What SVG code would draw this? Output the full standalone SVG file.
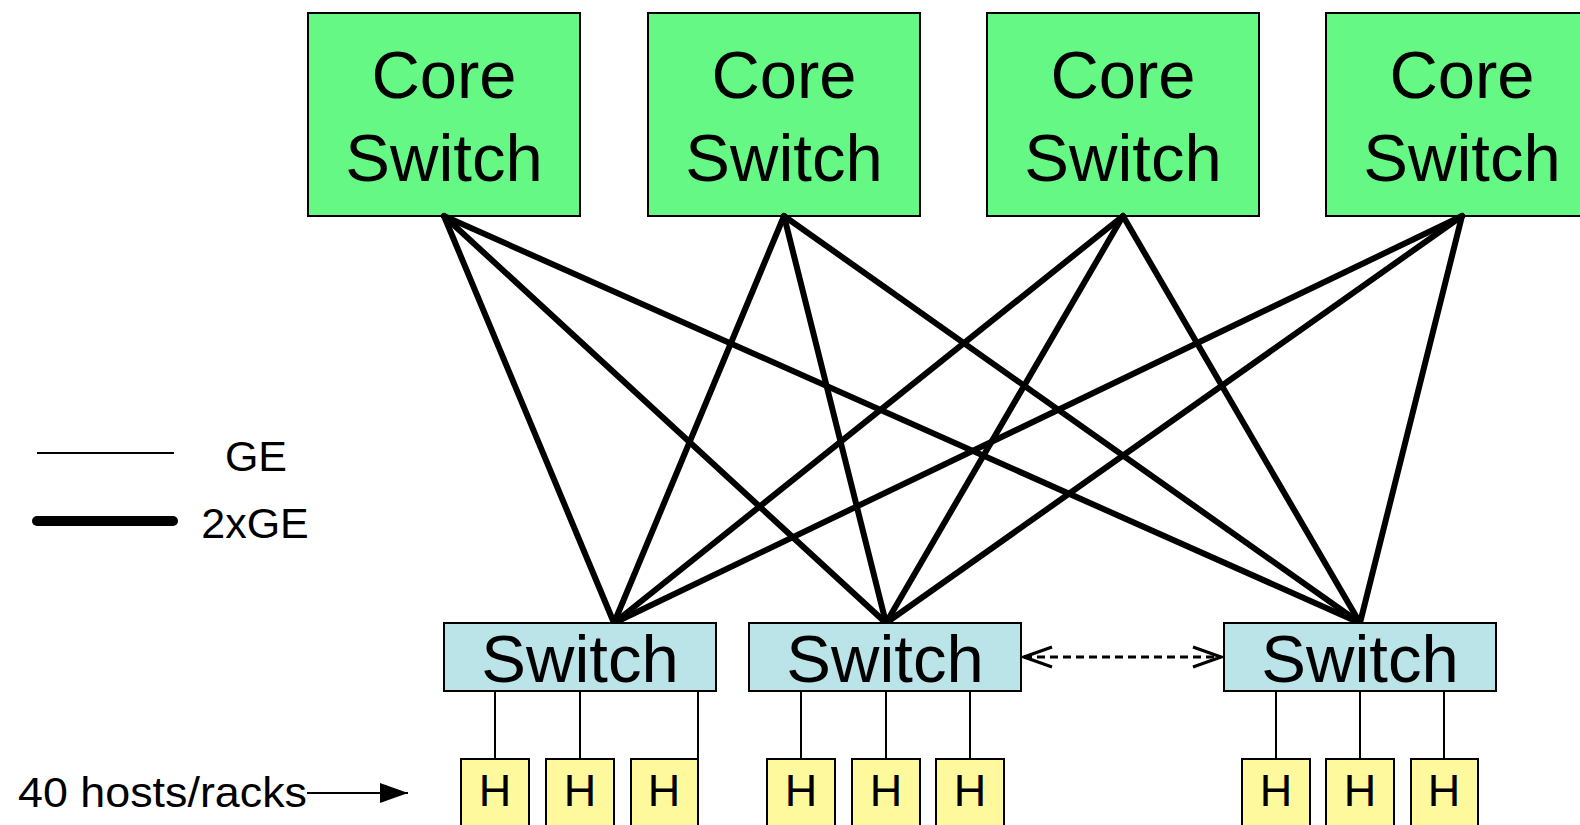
<svg xmlns="http://www.w3.org/2000/svg" width="1580" height="825" viewBox="0 0 1580 825">
  <style>
    text { font-family: "Liberation Sans", Arial, sans-serif; fill: #000; text-anchor: middle; }
    .core rect { fill: #66F884; stroke: #000; stroke-width: 2; }
    .edge rect { fill: #BAE4E8; stroke: #000; stroke-width: 2; }
    .host rect { fill: #FEF99C; stroke: #000; stroke-width: 2; }
    .big { font-size: 67px; }
    .hl { font-size: 45px; }
    .lg { font-size: 43px; }
    .uplink { stroke: #000; stroke-width: 6; stroke-linecap: round; fill: none; }
    .downlink { stroke: #000; stroke-width: 2; fill: none; }
  </style>
  <defs>
    <marker id="open" viewBox="0 0 32 24" refX="30" refY="12" markerWidth="32" markerHeight="24" markerUnits="userSpaceOnUse" orient="auto-start-reverse">
      <path d="M2,2 L30,12 L2,22" fill="none" stroke="#000" stroke-width="3"/>
    </marker>
    <marker id="solid" viewBox="0 0 28 20" refX="28" refY="10" markerWidth="28" markerHeight="20" markerUnits="userSpaceOnUse" orient="auto">
      <path d="M0,0 L28,10 L0,20 Z" fill="#000"/>
    </marker>
  </defs>

  <!-- core layer -->
  <g id="core1" class="core"><rect x="308" y="13" width="272" height="203"/><text class="big" x="444" y="98">Core</text><text class="big" x="444" y="181">Switch</text></g>
  <g id="core2" class="core"><rect x="648" y="13" width="272" height="203"/><text class="big" x="784" y="98">Core</text><text class="big" x="784" y="181">Switch</text></g>
  <g id="core3" class="core"><rect x="987" y="13" width="272" height="203"/><text class="big" x="1123" y="98">Core</text><text class="big" x="1123" y="181">Switch</text></g>
  <g id="core4" class="core"><rect x="1326" y="13" width="272" height="203"/><text class="big" x="1462" y="98">Core</text><text class="big" x="1462" y="181">Switch</text></g>

  <!-- connectors -->
  <g id="connectors">
    <line class="uplink" x1="444" y1="216" x2="614" y2="623"/>
    <line class="uplink" x1="444" y1="216" x2="886" y2="623"/>
    <line class="uplink" x1="444" y1="216" x2="1360" y2="623"/>
    <line class="uplink" x1="784" y1="216" x2="614" y2="623"/>
    <line class="uplink" x1="784" y1="216" x2="886" y2="623"/>
    <line class="uplink" x1="784" y1="216" x2="1360" y2="623"/>
    <line class="uplink" x1="1123" y1="216" x2="614" y2="623"/>
    <line class="uplink" x1="1123" y1="216" x2="886" y2="623"/>
    <line class="uplink" x1="1123" y1="216" x2="1360" y2="623"/>
    <line class="uplink" x1="1462" y1="216" x2="614" y2="623"/>
    <line class="uplink" x1="1462" y1="216" x2="886" y2="623"/>
    <line class="uplink" x1="1462" y1="216" x2="1360" y2="623"/>

    <line class="downlink" x1="495" y1="691" x2="495" y2="759"/>
    <line class="downlink" x1="580" y1="691" x2="580" y2="759"/>
    <line class="downlink" x1="698" y1="691" x2="698" y2="759"/>
    <line class="downlink" x1="801" y1="691" x2="801" y2="759"/>
    <line class="downlink" x1="886" y1="691" x2="886" y2="759"/>
    <line class="downlink" x1="970" y1="691" x2="970" y2="759"/>
    <line class="downlink" x1="1276" y1="691" x2="1276" y2="759"/>
    <line class="downlink" x1="1360" y1="691" x2="1360" y2="759"/>
    <line class="downlink" x1="1444" y1="691" x2="1444" y2="759"/>

    <line x1="1024" y1="657" x2="1221" y2="657" stroke="#000" stroke-width="3" stroke-dasharray="8,5" marker-start="url(#open)" marker-end="url(#open)"/>
  </g>

  <!-- edge switches -->
  <g id="switch1" class="edge"><rect x="444" y="623" width="272" height="68"/><text class="big" x="580" y="682">Switch</text></g>
  <g id="switch2" class="edge"><rect x="749" y="623" width="272" height="68"/><text class="big" x="885" y="682">Switch</text></g>
  <g id="switch3" class="edge"><rect x="1224" y="623" width="272" height="68"/><text class="big" x="1360" y="682">Switch</text></g>

  <!-- hosts -->
  <g id="host1" class="host"><rect x="461" y="759" width="68" height="80"/><text class="hl" x="495" y="806">H</text></g>
  <g id="host2" class="host"><rect x="546" y="759" width="68" height="80"/><text class="hl" x="580" y="806">H</text></g>
  <g id="host3" class="host"><rect x="631" y="759" width="67" height="80"/><text class="hl" x="664" y="806">H</text></g>
  <g id="host4" class="host"><rect x="767" y="759" width="68" height="80"/><text class="hl" x="801" y="806">H</text></g>
  <g id="host5" class="host"><rect x="852" y="759" width="68" height="80"/><text class="hl" x="886" y="806">H</text></g>
  <g id="host6" class="host"><rect x="936" y="759" width="68" height="80"/><text class="hl" x="970" y="806">H</text></g>
  <g id="host7" class="host"><rect x="1242" y="759" width="68" height="80"/><text class="hl" x="1276" y="806">H</text></g>
  <g id="host8" class="host"><rect x="1326" y="759" width="68" height="80"/><text class="hl" x="1360" y="806">H</text></g>
  <g id="host9" class="host"><rect x="1411" y="759" width="67" height="80"/><text class="hl" x="1444" y="806">H</text></g>

  <!-- legend -->
  <g id="legend">
    <line x1="37" y1="453" x2="174" y2="453" stroke="#000" stroke-width="2"/>
    <text class="lg" x="256" y="471">GE</text>
    <line x1="37" y1="521" x2="173" y2="521" stroke="#000" stroke-width="10" stroke-linecap="round"/>
    <text class="lg" x="255" y="538">2xGE</text>
  </g>

  <g id="hosts-label">
    <text class="lg" x="18" y="807" textLength="289" lengthAdjust="spacingAndGlyphs" style="text-anchor:start">40 hosts/racks</text>
    <line x1="307" y1="793" x2="408" y2="793" stroke="#000" stroke-width="2" marker-end="url(#solid)"/>
  </g>
</svg>
